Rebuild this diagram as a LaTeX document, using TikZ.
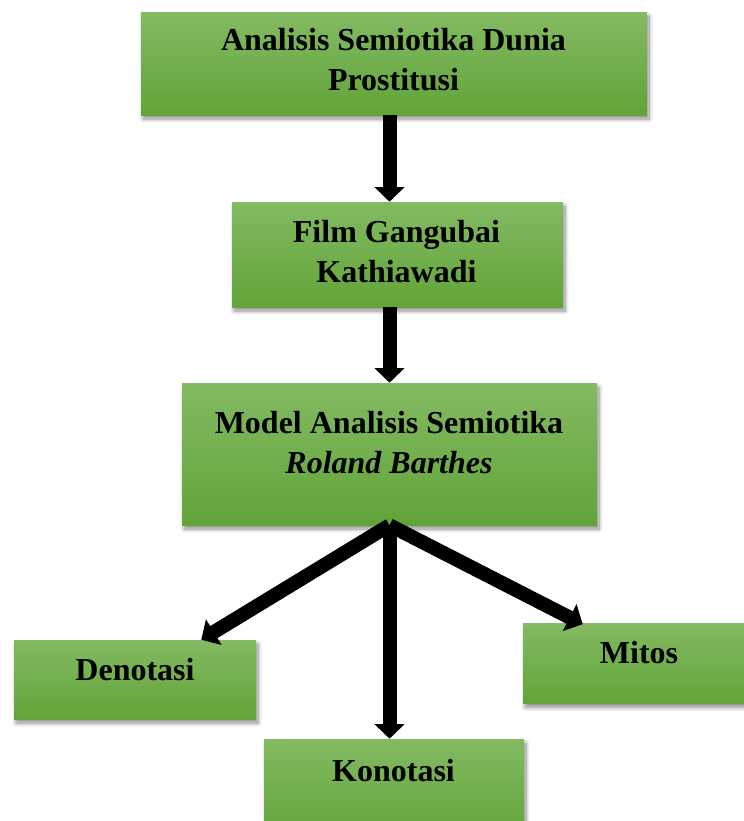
\documentclass[tikz,border=0pt]{standalone}
\usepackage{fontspec}
\setmainfont{Liberation Serif}
\usetikzlibrary{arrows.meta,shadows.blur,calc}
\definecolor{gtop}{RGB}{131,186,98}
\definecolor{gbot}{RGB}{98,164,57}
\tikzset{
  gbox/.style={rectangle, inner sep=0pt, top color=gtop, bottom color=gbot, draw=none,
    blur shadow={shadow xshift=1.5pt, shadow yshift=-3pt, shadow blur steps=10, shadow blur radius=3pt, shadow blur extra rounding=0pt, shadow opacity=45}},
  lbl/.style={inner sep=0pt, align=center, font=\bfseries\fontsize{24}{29.5}\selectfont, anchor=base},
  arr/.style={line width=10.5pt, -{Triangle[width=22pt,length=11pt]}}
}
\begin{document}
\begin{tikzpicture}[x=0.75pt,y=-0.75pt]
\useasboundingbox (0,0) rectangle (743,821);
% boxes
\node[gbox, minimum width=506*0.75pt, minimum height=103*0.75pt] (b1) at (394,63.5) {};
\node[gbox, minimum width=331*0.75pt, minimum height=105*0.75pt] (b2) at (397.5,254.5) {};
\node[gbox, minimum width=415*0.75pt, minimum height=142*0.75pt] (b3) at (389.5,454) {};
\node[gbox, minimum width=242*0.75pt, minimum height=79*0.75pt] (b4) at (135,679.5) {};
\node[gbox, minimum width=232*0.75pt, minimum height=80*0.75pt] (b5) at (639,663.5) {};
\node[gbox, minimum width=260*0.75pt, minimum height=100*0.75pt] (b6) at (394,789) {};
% labels (base anchor = baseline of the last line)
\node[lbl] (t1) at (393.5,90) {Analisis Semiotika Dunia\\Prostitusi};
\node[lbl] (t2) at (396.5,282) {Film Gangubai\\Kathiawadi};
\node[lbl] (t3) at (389,473) {Model Analisis Semiotika\\\textit{Roland Barthes}};
\node[lbl] (t4) at (135,680) {Denotasi};
\node[lbl] (t5) at (639,663) {Mitos};
\node[lbl] (t6) at (393.5,781) {Konotasi};
% arrows
\draw[arr] (b1.south -| b3.south) -- (b2.north -| b3.south);
\draw[arr] (b2.south -| b3.south) -- (b3.north);
\draw[arr] (b3.south) -- ($(b4.north east)+(-55,0)$);
\draw[arr] (b3.south) -- ($(b5.north west)+(60,1)$);
\draw[arr] (b3.south) -- (b3.south |- b6.north);
\end{tikzpicture}
\end{document}
